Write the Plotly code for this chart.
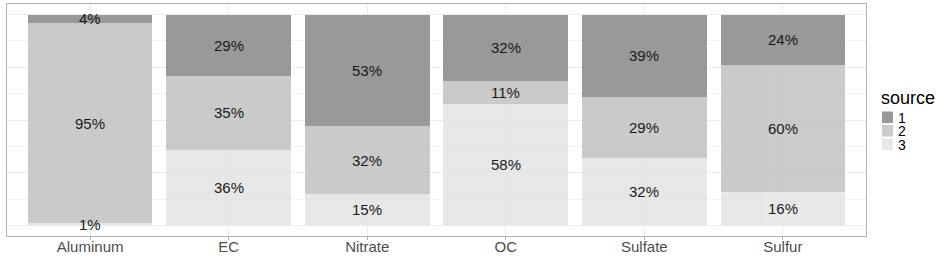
import plotly.graph_objects as go

categories = ["Aluminum", "EC", "Nitrate", "OC", "Sulfate", "Sulfur"]
sources = ["1", "2", "3"]
share_1 = [0.04, 0.29, 0.53, 0.316, 0.39, 0.24]
share_2 = [0.95, 0.35, 0.32, 0.108, 0.29, 0.60]
share_3 = [0.01, 0.36, 0.15, 0.576, 0.32, 0.16]
colors = {"1": "#8e8e8e", "2": "#c5c5c5", "3": "#e5e5e5"}
bar_alpha = 0.9

shares = {"1": share_1, "2": share_2, "3": share_3}
FONT = "Liberation Sans, Arial, sans-serif"

fig = go.Figure()
stack_order = ["3", "2", "1"]
base = [0.0] * len(categories)
annotations = []
for s in stack_order:
    vals = shares[s]
    fig.add_trace(go.Bar(
        x=categories, y=vals, name=s,
        marker=dict(color=colors[s], line=dict(width=0)), opacity=bar_alpha,
        width=0.9, showlegend=False, hoverinfo="skip",
    ))
    for i, v in enumerate(vals):
        annotations.append(dict(
            x=categories[i], y=base[i] + v / 2, xref="x", yref="y",
            text=f"{round(v * 100):.0f}%", showarrow=False,
            xanchor="center", yanchor="middle", yshift=0,
            font=dict(family=FONT, size=15, color="#1a1a1a"),
        ))
        base[i] += v

# manual legend (ggplot-like compact keys)
L, R, T, B = 7, 866, 4, 236
W, H = R - L, B - T

def px_x(x):
    return (x - L) / W

def px_y(y):
    return (B - y) / H

shapes = []
annotations.append(dict(
    x=px_x(879), y=px_y(98), xref="paper", yref="paper", text="source",
    showarrow=False, xanchor="left", yanchor="middle",
    font=dict(family=FONT, size=18, color="#000000"),
))
for k, s in enumerate(sources):
    top = 111.5 + k * 13.5
    shapes.append(dict(
        type="rect", xref="paper", yref="paper",
        x0=px_x(882), x1=px_x(893), y0=px_y(top + 11.5), y1=px_y(top),
        fillcolor=colors[s], opacity=bar_alpha, line=dict(width=0), layer="above",
    ))
    annotations.append(dict(
        x=px_x(896), y=px_y(top + 6), xref="paper", yref="paper", text=s,
        showarrow=False, xanchor="left", yanchor="middle",
        font=dict(family=FONT, size=14, color="#000000"),
    ))

fig.update_layout(
    width=947, height=279,
    margin=dict(l=L, r=947 - R, t=T, b=279 - B),
    paper_bgcolor="white", plot_bgcolor="white",
    barmode="stack", bargap=0.1,
    shapes=shapes, annotations=annotations,
    showlegend=False,
)
fig.update_xaxes(
    type="category", categoryorder="array", categoryarray=categories,
    range=[-0.6, 5.6],
    showgrid=True, gridcolor="#ebebeb", gridwidth=1,
    showline=True, mirror=True, linecolor="#b3b3b3", linewidth=1,
    ticks="outside", ticklen=3, tickcolor="#b3b3b3", tickwidth=1,
    tickfont=dict(family=FONT, size=15, color="#4d4d4d"),
    ticklabelstandoff=-6,
    zeroline=False,
)
fig.update_yaxes(
    range=[-0.05, 1.05],
    tickvals=[0, 0.25, 0.5, 0.75, 1.0],
    showticklabels=False, ticks="",
    showgrid=True, gridcolor="#ebebeb", gridwidth=1,
    minor=dict(tickvals=[0.125, 0.375, 0.625, 0.875], showgrid=True, gridcolor="#f2f2f2", gridwidth=1),
    showline=True, mirror=True, linecolor="#b3b3b3", linewidth=1,
    zeroline=False,
)

fig.write_html(
    "out.html",
    config={"displayModeBar": False},
    post_script="document.body.style.margin='0';document.body.style.padding='0';",
)
